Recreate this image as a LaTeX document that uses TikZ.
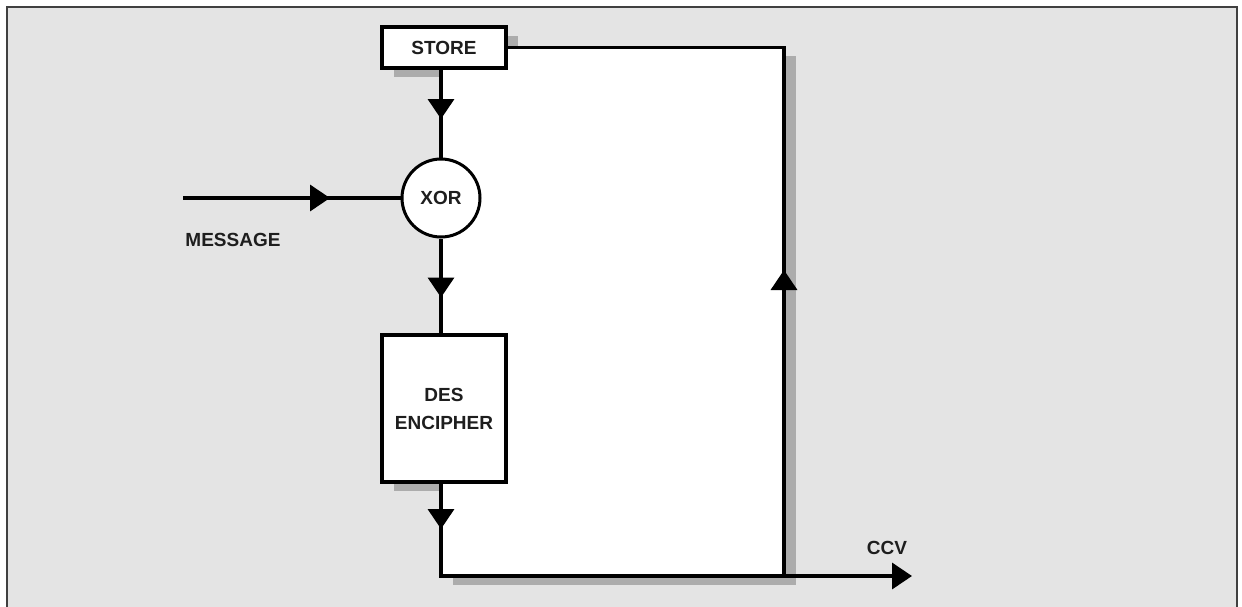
\documentclass[tikz,border=0pt]{standalone}
\usepackage{fontspec}
\setmainfont{Liberation Sans}
\usetikzlibrary{positioning,arrows.meta,decorations.markings}

\definecolor{paper}{RGB}{228,228,228}
\definecolor{shadowgray}{RGB}{172,172,172}
\definecolor{frame}{RGB}{64,64,64}
\definecolor{ink}{RGB}{30,30,30}

\begin{document}
\begin{tikzpicture}[x=1pt, y=-1pt, >={Triangle[width=26pt,length=20pt]},
  every node/.style={font=\fontsize{19}{28}\selectfont\bfseries, text=ink},
  wire/.style={line width=3.5pt},
  box/.style={draw, line width=4pt, fill=white, inner sep=0pt},
  tipat/.style={postaction={decorate}, decoration={markings, mark=at position #1 with {\arrow{>}}}}]
  \clip (0,0) rectangle (1242,606);
  \fill[white] (0,0) rectangle (1242,606);
  \draw[frame, line width=2pt, fill=paper] (7,7) rectangle (1237,620);
  % shadows and the white loop area
  \fill[shadowgray] (453,56) rectangle (796,585);
  \fill[shadowgray] (394,36) rectangle (518,77);
  \fill[shadowgray] (394,344) rectangle (518,491);
  \fill[white] (441,47.5) rectangle (784,576);
  \node[box, minimum width=124pt, minimum height=41pt] (store) at (444,47.5) {STORE};
  \node[draw, circle, line width=3pt, fill=white, minimum size=78pt, inner sep=0pt] (xor) at (441,198) {XOR};
  \node[box, minimum width=124pt, minimum height=147pt, align=center] (des) at (444,408.5) {DES\\ENCIPHER};
  \node (msg) at (233,240) {MESSAGE};
  \node (ccv) at (887,548) {CCV};
  \coordinate (in) at (183,198);
  \coordinate (corner) at (441,576);
  \coordinate (tap) at (784,576);
  \coordinate (turn) at (784,47.5);
  \coordinate (out) at (912,576);
  \draw[wire, tipat=49pt] (store.south -| xor) -- (xor.north);
  \draw[wire, tipat=147pt] (in) -- (xor.west);
  \draw[wire, tipat=59pt] (xor.south) -- (des.north -| xor);
  \draw[wire, ->, tipat=45pt] (des.south -| xor) -- (corner) -- (out);
  \draw[wire, tipat=306pt] (tap) -- (turn) -- (store.east);
\end{tikzpicture}
\end{document}
